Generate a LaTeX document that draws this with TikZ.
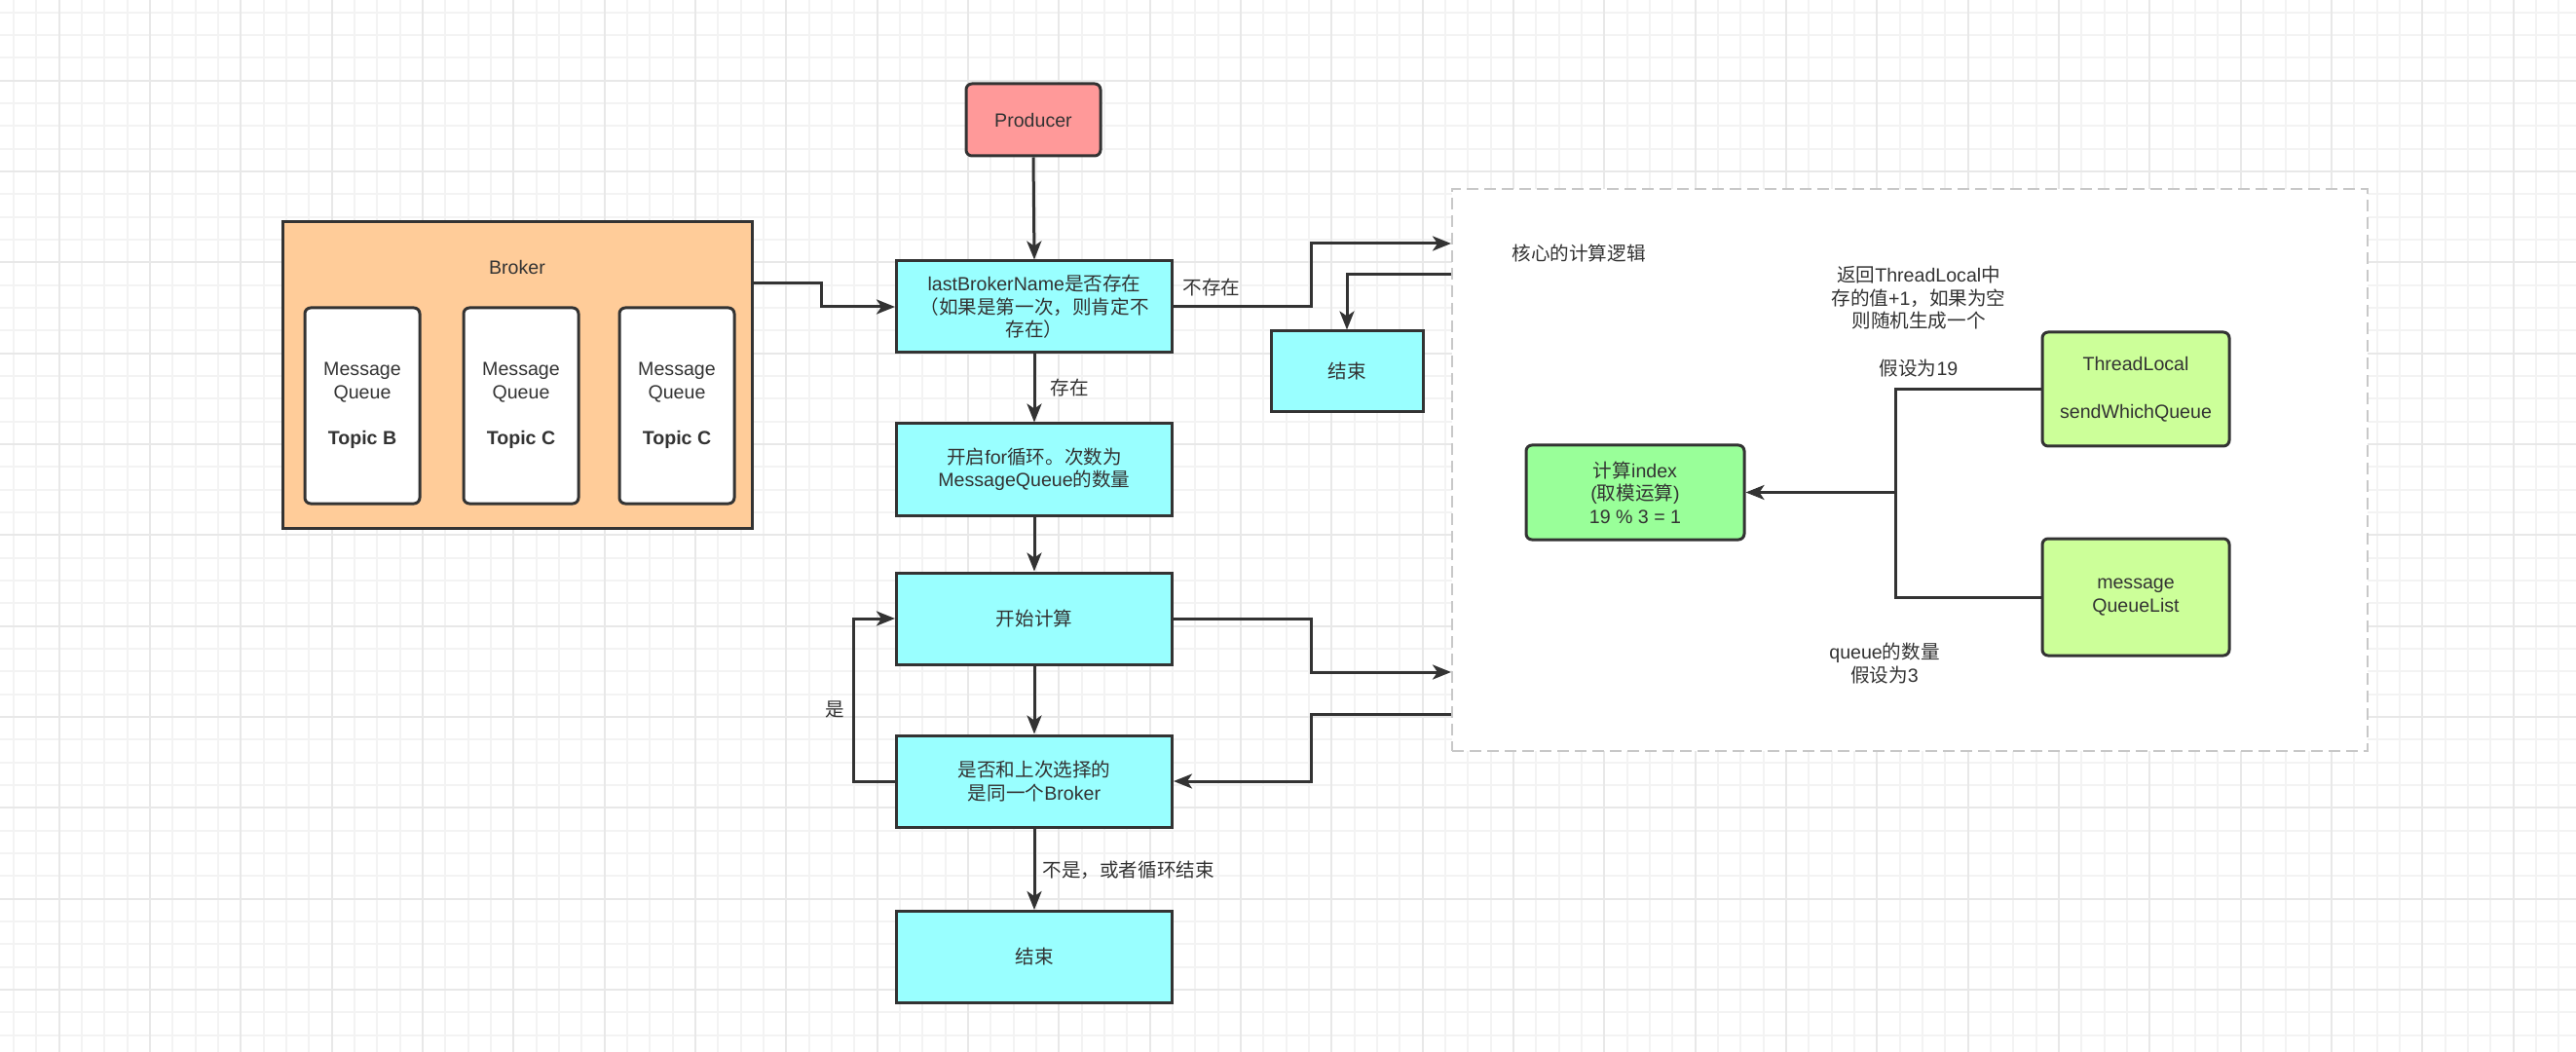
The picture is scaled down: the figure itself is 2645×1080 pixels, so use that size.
\documentclass[tikz,border=0pt]{standalone}
\usepackage{fontspec}
\setmainfont{Liberation Sans}
\newfontfamily\cjkfont{Noto Sans CJK SC}
\newcommand\zhtext[1]{{\cjkfont #1}}
\usetikzlibrary{arrows.meta}
\definecolor{ink}{HTML}{333333}
\definecolor{cyanbox}{HTML}{99FFFF}
\definecolor{prodcol}{HTML}{FF9999}
\definecolor{brokercol}{HTML}{FFCC99}
\definecolor{greenbox}{HTML}{99FF99}
\definecolor{limebox}{HTML}{CCFF99}
\definecolor{gridminor}{HTML}{F3F3F3}
\definecolor{gridmajor}{HTML}{E8E8E8}
\definecolor{dashcol}{HTML}{C8C8C8}
\tikzset{
  txt/.style={font=\fontsize{9.8}{11.75}\selectfont, text=ink},
  box/.style={txt, draw=ink, line width=1.5pt, fill=cyanbox, minimum width=141.5pt, minimum height=47pt, align=center, inner sep=0pt},
  rbox/.style={box, rounded corners=3pt},
  lbl/.style={txt, inner sep=0pt, align=center},
  ln/.style={draw=ink, line width=1.5pt},
  arr/.style={ln, -{Stealth[length=9.5pt,width=7.5pt,inset=2.5pt]}},
}
\begin{document}
\begin{tikzpicture}[x=0.5pt,y=-0.5pt]
\useasboundingbox (0,0) rectangle (2645,1080);
\fill[white] (0,0) rectangle (2645,1080);
% grid
\foreach \i in {0,...,112} { \draw[gridminor, line width=1pt] ({14+23.3333*\i},0) -- ({14+23.3333*\i},1080); }
\foreach \j in {0,...,45} { \draw[gridminor, line width=1pt] (0,{12.67+23.3333*\j}) -- (2645,{12.67+23.3333*\j}); }
\foreach \i in {0,...,27} { \draw[gridmajor, line width=1pt] ({60.67+93.3333*\i},0) -- ({60.67+93.3333*\i},1080); }
\foreach \j in {0,...,10} { \draw[gridmajor, line width=1pt] (0,{82.67+93.3333*\j}) -- (2645,{82.67+93.3333*\j}); }

% core dashed region
\node[draw=dashcol, line width=1pt, dash pattern=on 6pt off 3pt, fill=white, minimum width=470pt, minimum height=288.5pt, inner sep=0pt] (core) at (1961,482.5) {};

% broker
\node[draw=ink, line width=1.5pt, fill=brokercol, minimum width=241pt, minimum height=157pt, inner sep=0pt] (broker) at (531,385) {};
\node[lbl] (brokerlbl) at (531,274) {Broker};
\node[rbox, fill=white, minimum width=59pt, minimum height=100.5pt] (mq1) at (372,416.5) {Message\\Queue\\[11.75pt]\textbf{Topic B}};
\node[rbox, fill=white, minimum width=59pt, minimum height=100.5pt] (mq2) at (535,416.5) {Message\\Queue\\[11.75pt]\textbf{Topic C}};
\node[rbox, fill=white, minimum width=59pt, minimum height=100.5pt] (mq3) at (695,416.5) {Message\\Queue\\[11.75pt]\textbf{Topic C}};

% main flow
\node[rbox, fill=prodcol, minimum width=69pt, minimum height=37pt] (prod) at (1061,123) {Producer};
\node[box] (last) at (1062,315) {lastBrokerName\zhtext{是否存在}\\\zhtext{（如果是第一次，则肯定不}\\\zhtext{存在）}};
\node[box] (loop) at (1062,482) {\zhtext{开启}for\zhtext{循环。次数为}\\MessageQueue\zhtext{的数量}};
\node[box] (calc) at (1062,635) {\zhtext{开始计算}};
\node[box] (same) at (1062,802) {\zhtext{是否和上次选择的}\\\zhtext{是同一个}Broker};
\node[box] (end) at (1062,982.5) {\zhtext{结束}};
\node[box, minimum width=78pt, minimum height=41.5pt] (end2) at (1383,381.5) {\zhtext{结束}};

% core content
\node[lbl, anchor=west] (coretitle) at (1552,260) {\zhtext{核心的计算逻辑}};
\node[lbl] (note1) at (1970,306) {\zhtext{返回}ThreadLocal\zhtext{中}\\\zhtext{存的值}+1\zhtext{，如果为空}\\\zhtext{则随机生成一个}};
\node[lbl] (note2) at (1970,378) {\zhtext{假设为}19};
\node[lbl] (note3) at (1935,681) {queue\zhtext{的数量}\\\zhtext{假设为}3};
\node[rbox, fill=greenbox, minimum width=112pt, minimum height=48.5pt] (index) at (1679,505.5) {\zhtext{计算}index\\(\zhtext{取模运算})\\19 \% 3 = 1};
\node[rbox, fill=limebox, minimum width=96pt, minimum height=58.5pt] (tl) at (2193,399.5) {ThreadLocal\\[12.75pt]sendWhichQueue};
\node[rbox, fill=limebox, minimum width=96pt, minimum height=60pt] (mql) at (2193,613) {message\\QueueList};

% edge labels
\node[lbl] (lno) at (1244,295) {\zhtext{不存在}};
\node[lbl] (lyes) at (1098,398) {\zhtext{存在}};
\node[lbl] (lshi) at (857,728) {\zhtext{是}};
\node[lbl, anchor=west] (lnot) at (1070,893) {\zhtext{不是，或者循环结束}};

% connectors
\coordinate (b1) at (843,291);
\coordinate (n1) at (1346,250);
\coordinate (n2) at (1383,282);
\coordinate (n3) at (1346,690);
\coordinate (n4) at (1346,733);
\coordinate (n5) at (876,802);
\coordinate (n6) at (1946,0);

\draw[arr] (prod.south) -- (last.north);
\draw[arr] (broker.east |- b1) -- (b1) |- (last.west);
\draw[arr] (last.east) -| (n1) -- (core.west |- n1);
\draw[arr] (core.west |- n2) -| (end2.north);
\draw[arr] (last.south) -- (loop.north);
\draw[arr] (loop.south) -- (calc.north);
\draw[arr] (calc.east) -| (n3) -- (core.west |- n3);
\draw[arr] (core.west |- n4) -- (n4) |- (same.east);
\draw[arr] (calc.south) -- (same.north);
\draw[arr] (same.west) -- (n5) |- (calc.west);
\draw[arr] (same.south) -- (end.north);
\draw[ln] (tl.west) -- (tl.west -| n6) -- (mql.west -| n6) -- (mql.west);
\draw[arr] (index.east -| n6) -- (index.east);
\end{tikzpicture}
\end{document}
